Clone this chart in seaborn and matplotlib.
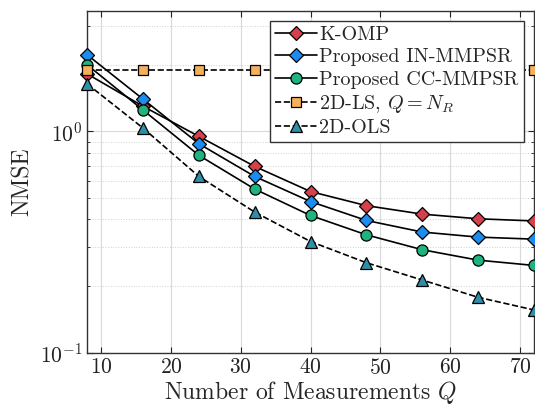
import numpy as np
import pandas as pd
import matplotlib
matplotlib.use("Agg")
import matplotlib.pyplot as plt
import matplotlib.ticker as mticker
import seaborn as sns

# measurements Q
q_vals = [8, 16, 24, 32, 40, 48, 56, 64, 72]

# NMSE
komp     = [1.82, 1.30, 0.95, 0.695, 0.535, 0.462, 0.423, 0.403, 0.394]
in_mmpsr = [2.22, 1.40, 0.88, 0.626, 0.482, 0.396, 0.351, 0.333, 0.326]
cc_mmpsr = [2.00, 1.25, 0.78, 0.549, 0.417, 0.341, 0.292, 0.262, 0.248]
ls_2d    = [1.89, 1.89, 1.89, 1.89, 1.89, 1.89, 1.89, 1.89, 1.89]
ols_2d   = [1.64, 1.036, 0.626, 0.432, 0.318, 0.255, 0.213, 0.178, 0.156]

series_names = ["K-OMP", "Proposed IN-MMPSR", "Proposed CC-MMPSR",
                r"2D-LS, $Q = N_R$", "2D-OLS"]
series_vals = [komp, in_mmpsr, cc_mmpsr, ls_2d, ols_2d]
colors  = ["#d6404a", "#1c8cf0", "#1fb37e", "#f7b05a", "#2f8fa8"]
markers = ["D", "D", "o", "s", "^"]
msizes  = [7, 7, 8, 6.5, 8]
styles  = ["-", "-", "-", "--", "--"]

sns.set_style("ticks")
plt.rcParams["font.family"] = ["cmr10", "DejaVu Serif"]
plt.rcParams["mathtext.fontset"] = "cm"
plt.rcParams["axes.formatter.use_mathtext"] = True

fig = plt.figure(figsize=(5.35, 4.12), dpi=100)
ax = fig.add_axes([0.163, 0.144, 0.835, 0.829])

for name, vals, c, m, ms, ls in zip(series_names, series_vals, colors, markers, msizes, styles):
    df = pd.DataFrame({"Q": q_vals, "NMSE": vals})
    sns.lineplot(data=df, x="Q", y="NMSE", ax=ax, color="black", linestyle=ls,
                 linewidth=1.2, marker=m, markersize=ms, markerfacecolor=c,
                 markeredgecolor="black", markeredgewidth=0.9, label=name,
                 clip_on=False, zorder=3)

ax.set_yscale("log")
ax.set_xlim(8, 72)
ax.set_ylim(0.1, 3.5)
ax.xaxis.set_major_locator(mticker.MultipleLocator(10))
ax.yaxis.set_major_locator(mticker.LogLocator(base=10))
ax.yaxis.set_minor_locator(mticker.LogLocator(base=10, subs=np.arange(2, 10)))
ax.yaxis.set_minor_formatter(mticker.NullFormatter())

ax.grid(True, which="major", color="#d9d9d9", linewidth=0.8, linestyle="-")
ax.grid(True, which="minor", axis="y", color="#cfcfcf", linewidth=0.7, linestyle=":")
ax.set_axisbelow(True)

ax.tick_params(which="both", direction="in", top=True, right=True,
               labelsize=15.5, colors="#222222")
ax.tick_params(which="major", length=4)
ax.tick_params(which="minor", length=2)
for spine in ax.spines.values():
    spine.set_visible(True)
    spine.set_linewidth(1.0)
    spine.set_color("#333333")

ax.set_xlabel(r"Number of Measurements $Q$", fontsize=17, labelpad=1)
ax.set_ylabel("NMSE", fontsize=17, labelpad=4)

leg = ax.legend(loc="upper right", fontsize=14.5, frameon=True, fancybox=False,
                framealpha=1, edgecolor="#333333", borderpad=0.25,
                labelspacing=0.2, handlelength=2.1, handletextpad=0.1,
                borderaxespad=0.5)
leg.get_frame().set_linewidth(1.0)

fig.savefig("out.png", dpi=100)
plt.close(fig)
